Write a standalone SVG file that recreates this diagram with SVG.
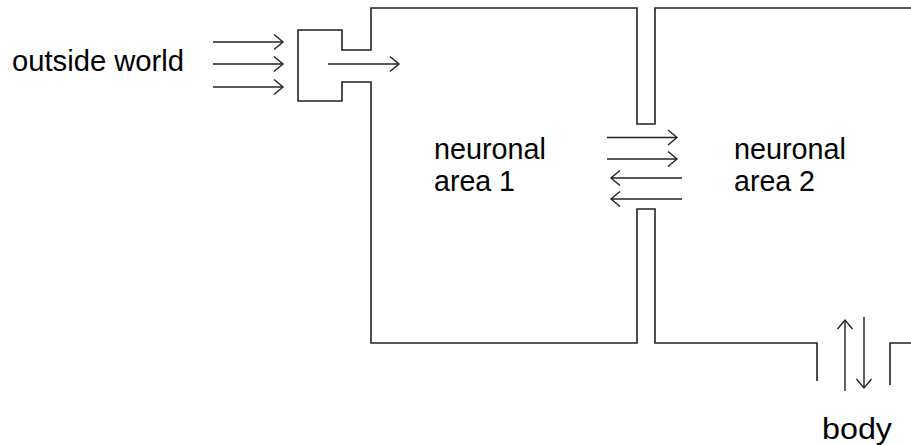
<svg xmlns="http://www.w3.org/2000/svg" width="911" height="445" viewBox="0 0 911 445">
<style>
.w{fill:none;stroke:#222;stroke-width:1.6}
.a{fill:none;stroke:#222;stroke-width:1.4;marker-end:url(#h)}
text{font-family:"Liberation Sans",Arial,sans-serif;font-size:29px;fill:#000}
</style>
<defs>
<marker id="h" markerUnits="userSpaceOnUse" markerWidth="20" markerHeight="20" refX="10" refY="8" orient="auto" viewBox="0 0 20 16">
<path d="M1,0.5 L10,8 L1,15.5" fill="none" stroke="#222" stroke-width="1.4"/>
</marker>
</defs>
<rect width="911" height="445" fill="#fff"/>
<g id="walls">
<path class="w" d="M911,8 H655 V124 H637 V8 H371 V50 H342 V30 H298 V101 H342 V82 H371 V343 H637 V209 H655 V343 H817 V381"/>
<path class="w" d="M890,385 V343 H911"/>
</g>
<g id="connectors">
<path class="a" d="M213,42 H283"/>
<path class="a" d="M213,64 H283"/>
<path class="a" d="M213,87 H283"/>
<path class="a" d="M328,64 H399"/>
<path class="a" d="M607,137.5 H677"/>
<path class="a" d="M607,159 H677"/>
<path class="a" d="M682,178 H611"/>
<path class="a" d="M682,199 H611"/>
<path class="a" d="M845,391 V320"/>
<path class="a" d="M864,317 V388"/>
</g>
<g id="outside"><text x="12" y="71" textLength="172" lengthAdjust="spacingAndGlyphs">outside world</text></g>
<g id="area1"><text x="434" y="159" textLength="112" lengthAdjust="spacingAndGlyphs">neuronal</text><text x="434" y="191" textLength="81" lengthAdjust="spacingAndGlyphs">area 1</text></g>
<g id="area2"><text x="734" y="159" textLength="112" lengthAdjust="spacingAndGlyphs">neuronal</text><text x="734" y="191" textLength="81" lengthAdjust="spacingAndGlyphs">area 2</text></g>
<g id="body"><text x="822" y="439" textLength="70" lengthAdjust="spacingAndGlyphs">body</text></g>
</svg>
